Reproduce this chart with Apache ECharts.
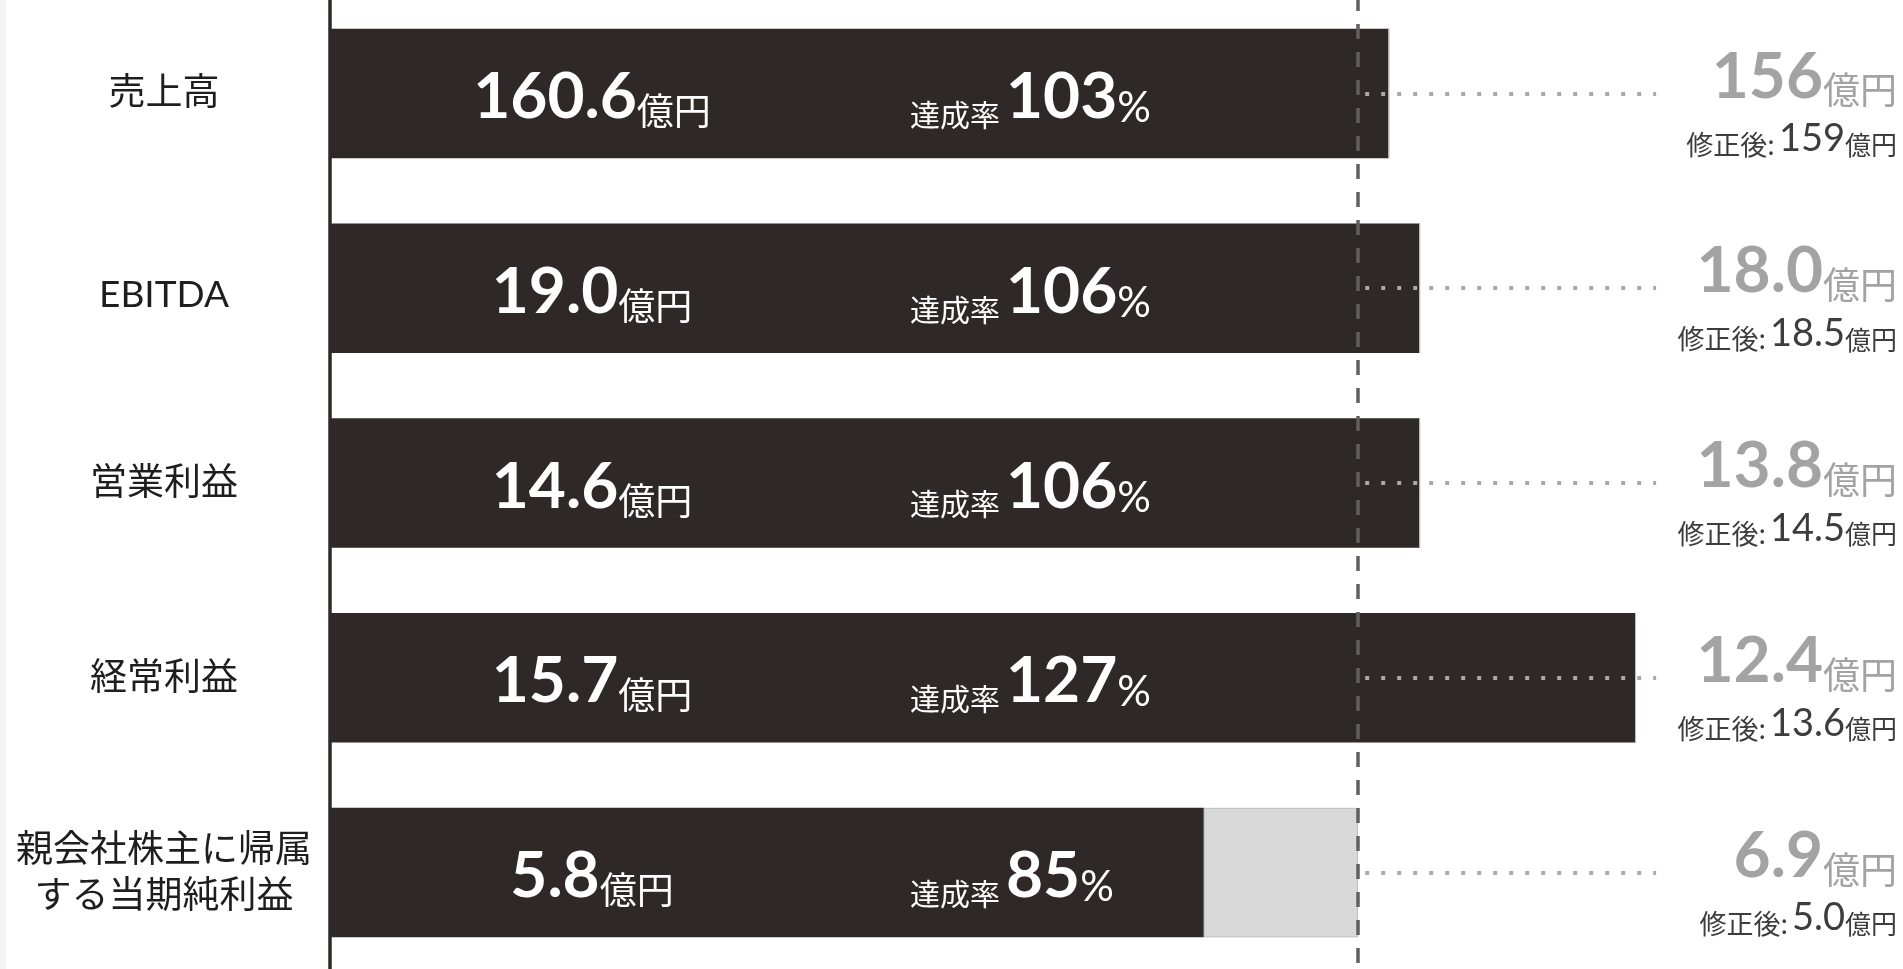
<!DOCTYPE html>
<html>
<head>
<meta charset="utf-8">
<script src="https://cdn.jsdelivr.net/npm/echarts@6/dist/echarts.min.js"></script>
<style>
  html, body { margin: 0; padding: 0; width: 100%; height: 100%; overflow: hidden;
    background: linear-gradient(90deg, #f3f3f3 0, #f3f3f3 6px, #ffffff 6px); }
  #chart { width: 1903px; height: 969px; }
</style>
</head>
<body>
<div id="chart"></div>
<script>
// Results vs. plan, one row per metric
const categories = ['売上高', 'EBITDA', '営業利益', '経常利益', '親会社株主に帰属\nする当期純利益'];
const actualAmounts = ['160.6', '19.0', '14.6', '15.7', '5.8'];      // 億円
const achievementRates = [103, 106, 106, 127, 85];                   // %
const forecastAmounts = ['156', '18.0', '13.8', '12.4', '6.9'];      // 億円
const revisedAmounts = ['159', '18.5', '14.5', '13.6', '5.0'];       // 億円 (修正後)

const TARGET_RATE = 100;
const shortfall = achievementRates.map(r => Math.max(0, TARGET_RATE - r));

const LATIN = 'Lato';
const CJK = '"Noto Sans CJK JP"';
const MIXED = 'Lato, "Noto Sans CJK JP", sans-serif';
const BAR_DARK = '#2e2826';
const GREY_TEXT = '#a3a3a3';
const SUB_TEXT = '#3d3d3d';

const chart = echarts.init(document.getElementById('chart'), null, { renderer: 'canvas' });

chart.setOption({
  animation: false,
  grid: { left: 330, right: 236.6, top: -4, bottom: -1, containLabel: false, outerBoundsMode: 'none' },
  xAxis: { type: 'value', min: 0, max: 130, show: false },
  yAxis: [
    {
      type: 'category', data: categories, inverse: true,
      axisLine: { show: true, lineStyle: { color: BAR_DARK, width: 3.5 } },
      axisTick: { show: false },
      splitLine: { show: false },
      axisLabel: {
        margin: 166, align: 'center', fontSize: 37, lineHeight: 46,
        color: '#1e1e1e', fontFamily: MIXED,
        // Latin-only names sit a little lower, on the CJK baseline
        formatter: v => (/^[A-Za-z]+$/.test(v) ? '{lat|' + v + '}' : v),
        rich: {
          lat: { fontSize: 37, fontFamily: LATIN, color: '#1e1e1e', lineHeight: 46, padding: [14, 0, 0, 0] }
        }
      }
    },
    {
      type: 'category', data: categories, inverse: true, position: 'right',
      axisLine: { show: false }, axisTick: { show: false }, splitLine: { show: false },
      axisLabel: {
        margin: 230.6, align: 'right', padding: [16, 0, 0, 0],
        formatter: (v, i) =>
          '{fc|' + forecastAmounts[i] + '}{fcUnit|億円}\n' +
          '{rv|修正後:}{rvNum|' + revisedAmounts[i] + '}{rvUnit|億円}',
        rich: {
          fc: { fontSize: 64, fontWeight: 700, fontFamily: LATIN, color: GREY_TEXT, lineHeight: 64, verticalAlign: 'bottom' },
          fcUnit: { fontSize: 37, fontFamily: CJK, color: GREY_TEXT, lineHeight: 60, verticalAlign: 'bottom' },
          rv: { fontSize: 27, fontFamily: CJK, color: SUB_TEXT, lineHeight: 44, verticalAlign: 'bottom' },
          rvNum: { fontSize: 38, fontFamily: LATIN, color: SUB_TEXT, lineHeight: 49, verticalAlign: 'bottom', padding: [0, 0, 0, 4] },
          rvUnit: { fontSize: 26, fontFamily: CJK, color: SUB_TEXT, lineHeight: 42, verticalAlign: 'bottom' }
        }
      }
    }
  ],
  series: [
    {
      name: '実績', type: 'bar', stack: 'rate', data: achievementRates,
      barWidth: '66.5%', barGap: '-100%', z: 2,
      itemStyle: { color: BAR_DARK },
      label: {
        show: true, position: [262, '50%'], align: 'center', verticalAlign: 'middle', offset: [0, 4],
        formatter: p => '{num|' + actualAmounts[p.dataIndex] + '}{unit|億円}',
        rich: {
          num: { fontSize: 64, fontWeight: 700, fontFamily: LATIN, color: '#ffffff', lineHeight: 64, verticalAlign: 'bottom' },
          unit: { fontSize: 37, fontFamily: CJK, color: '#ffffff', lineHeight: 56, verticalAlign: 'bottom' }
        }
      },
      emphasis: { disabled: true }
    },
    {
      name: '未達', type: 'bar', stack: 'rate', data: shortfall,
      barWidth: '66.5%', barGap: '-100%', z: 2,
      itemStyle: { color: '#d9d9d9', borderColor: '#bdbdbd', borderWidth: 1 },
      emphasis: { disabled: true }
    },
    {
      name: '達成率', type: 'bar', data: achievementRates,
      barWidth: '66.5%', barGap: '-100%', z: 3,
      itemStyle: { color: 'rgba(0,0,0,0)' },
      label: {
        show: true, position: [580, '50%'], align: 'left', verticalAlign: 'middle', offset: [0, 4],
        formatter: p => '{cap|達成率}{num|' + achievementRates[p.dataIndex] + '}{pct|%}',
        rich: {
          cap: { fontSize: 30, fontFamily: CJK, color: '#ffffff', lineHeight: 51, verticalAlign: 'bottom', padding: [0, 6, 0, 0] },
          num: { fontSize: 64, fontWeight: 700, fontFamily: LATIN, color: '#ffffff', lineHeight: 64, verticalAlign: 'bottom' },
          pct: { fontSize: 42, fontFamily: LATIN, color: '#ffffff', lineHeight: 56, verticalAlign: 'bottom' }
        }
      },
      markLine: {
        silent: true, symbol: ['none', 'none'], animation: false,
        label: { show: false },
        lineStyle: { type: [4, 12], width: 4, color: '#a9a9a9', cap: 'butt' },
        data: [
          { xAxis: TARGET_RATE, lineStyle: { type: [15, 13], width: 3.5, color: '#606060' } },
          ...categories.map(c => [{ coord: [100.7, c] }, { coord: [129, c] }])
        ]
      },
      emphasis: { disabled: true }
    }
  ]
});
</script>
</body>
</html>
